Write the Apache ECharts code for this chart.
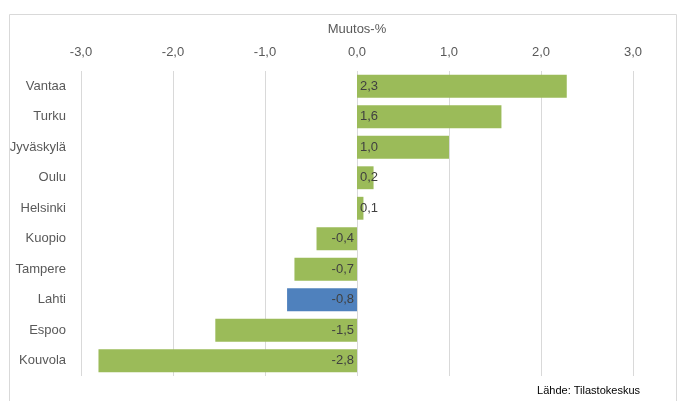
<!DOCTYPE html>
<html>
<head>
<meta charset="utf-8">
<script src="https://cdn.jsdelivr.net/npm/echarts@6/dist/echarts.min.js"></script>
<style>html,body{margin:0;padding:0;background:#fff}#c{width:681px;height:401px}</style>
</head>
<body>
<div id="c"></div>
<script>
var categories = ['Vantaa','Turku','Jyväskylä','Oulu','Helsinki','Kuopio','Tampere','Lahti','Espoo','Kouvola'];
// bar lengths (labels show them rounded to one decimal)
var values = [2.28, 1.57, 1.0, 0.18, 0.07, -0.44, -0.68, -0.76, -1.54, -2.81];
var highlight = 'Lahti';
var tickMin = -3, tickMax = 3, tickStep = 1;
var axisTitle = 'Muutos-%';
var sourceText = 'Lähde: Tilastokeskus';

var FONT = '"Liberation Sans", sans-serif';
function fmt(v){ return (Math.round(v * 10) / 10).toFixed(1).replace('.', ','); }

var data = values.map(function(v, i){
  return {
    value: v,
    itemStyle: { color: categories[i] === highlight ? '#4F81BD' : '#9BBB59' },
    label: { position: v >= 0 ? 'insideLeft' : 'insideRight' }
  };
});

var chart = echarts.init(document.getElementById('c'));
chart.setOption({
  animation: false,
  grid: { left: 81, right: 48, top: 71, bottom: 25, containLabel: false },
  xAxis: {
    type: 'value', position: 'top', min: tickMin, max: tickMax, interval: tickStep,
    name: axisTitle, nameLocation: 'middle', nameGap: 35,
    nameTextStyle: { color: '#595959', fontSize: 13, fontFamily: FONT },
    axisLine: { show: false }, axisTick: { show: false },
    axisLabel: { color: '#595959', fontSize: 13, fontFamily: FONT, margin: 12,
      formatter: function(v){ return fmt(v); } },
    splitLine: { show: true, lineStyle: { color: '#D9D9D9', width: 1 } }
  },
  yAxis: {
    type: 'category', inverse: true, data: categories,
    axisLine: { show: false }, axisTick: { show: false },
    axisLabel: { color: '#595959', fontSize: 13, fontFamily: FONT, margin: 15 }
  },
  series: [{
    type: 'bar', data: data, barCategoryGap: '25%',
    label: { show: true, distance: 3, color: '#404040', fontSize: 13, fontFamily: FONT,
      formatter: function(p){ return fmt(p.value); } }
  }],
  graphic: [
    { type: 'rect', shape: { x: 9.5, y: 14.5, width: 667, height: 400 },
      style: { fill: 'none', stroke: '#D9D9D9', lineWidth: 1 }, silent: true, z: -1 },
    { type: 'text', right: 41, top: 385,
      style: { text: sourceText, fill: '#000000', fontSize: 11, fontFamily: FONT } }
  ]
});
</script>
</body>
</html>
